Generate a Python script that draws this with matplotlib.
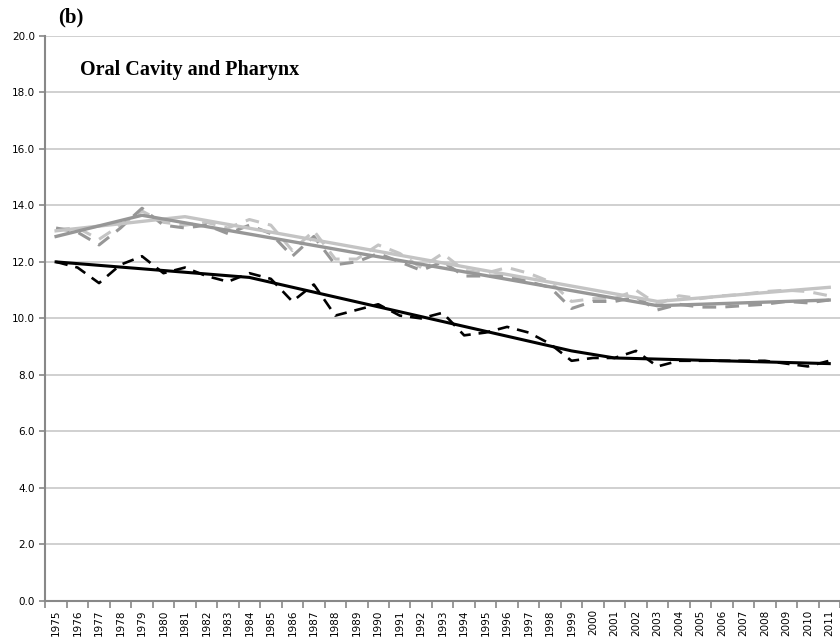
import matplotlib
matplotlib.use("Agg")
import matplotlib.pyplot as plt
import numpy as np

years = list(range(1975, 2012))

# observed rates (dashed) and joinpoint trends (solid)
light_obs = [13.15, 13.2, 12.8, 13.3, 13.8, 13.4, 13.3, 13.4, 13.2, 13.5,
             13.3, 12.4, 13.1, 12.1, 12.1, 12.6, 12.3, 11.8, 12.3, 11.7,
             11.6, 11.8, 11.6, 11.3, 10.6, 10.7, 10.7, 11.0, 10.5, 10.8,
             10.7, 10.8, 10.85, 10.95, 11.0, 10.95, 10.8]
dark_obs = [13.2, 13.05, 12.6, 13.2, 13.9, 13.3, 13.2, 13.3, 13.0, 13.3,
            13.0, 12.2, 12.9, 11.9, 12.0, 12.3, 12.0, 11.7, 12.0, 11.5,
            11.5, 11.5, 11.3, 11.1, 10.35, 10.6, 10.6, 10.75, 10.3, 10.5,
            10.4, 10.4, 10.45, 10.5, 10.6, 10.55, 10.65]
black_obs = [12.0, 11.8, 11.25, 11.9, 12.2, 11.6, 11.8, 11.5, 11.3, 11.6,
             11.4, 10.6, 11.2, 10.1, 10.3, 10.5, 10.1, 10.0, 10.2, 9.4,
             9.5, 9.7, 9.5, 9.1, 8.5, 8.6, 8.6, 8.85, 8.3, 8.5,
             8.5, 8.5, 8.5, 8.5, 8.4, 8.3, 8.5]

light_trend_years = [1975, 1981, 2003, 2011]
light_trend_vals = [13.1, 13.6, 10.6, 11.1]
dark_trend_years = [1975, 1979, 2003, 2011]
dark_trend_vals = [12.9, 13.65, 10.45, 10.65]
black_trend_years = [1975, 1984, 1999, 2001, 2011]
black_trend_vals = [12.0, 11.45, 8.85, 8.6, 8.4]

light = "#c4c4c4"
mid = "#979797"
axis_gray = "#888888"

fig = plt.figure(figsize=(8.4, 6.4), dpi=100)
ax = fig.add_axes([0.054, 0.061, 0.946, 0.883])

x = np.arange(len(years))
dash = (0, (4.5, 3))
ax.plot(x, light_obs, color=light, lw=2.2, linestyle=dash, zorder=3)
ax.plot(x, dark_obs, color=mid, lw=2.2, linestyle=dash, zorder=3)
ax.plot(x, black_obs, color="black", lw=1.9, linestyle=dash, zorder=4)

def idx(ys):
    return [years.index(y) for y in ys]

ax.plot(idx(light_trend_years), light_trend_vals, color=light, lw=2.4, zorder=3)
ax.plot(idx(dark_trend_years), dark_trend_vals, color=mid, lw=2.4, zorder=3)
ax.plot(idx(black_trend_years), black_trend_vals, color="black", lw=2.2, zorder=4)

ax.set_ylim(0, 20)
ax.set_xlim(-0.5, len(years) - 0.5)
ax.set_yticks(np.arange(0, 20.1, 2))
ax.set_yticklabels([f"{v:.1f}" for v in np.arange(0, 20.1, 2)], fontsize=7.5)
ax.yaxis.grid(True, color="#c8c8c8", lw=1.2)
ax.set_axisbelow(True)

ax.set_xticks(x)
ax.set_xticklabels([str(y) for y in years], rotation=90, fontsize=7.5)
ax.set_xticks(np.arange(-0.5, len(years), 1), minor=True)
ax.tick_params(axis="x", which="major", length=0, pad=6)
ax.tick_params(axis="x", which="minor", length=5, color=axis_gray, width=1.2)
ax.tick_params(axis="y", length=4, color=axis_gray, width=1.2)

for s in ["top", "right"]:
    ax.spines[s].set_visible(False)
for s in ["left", "bottom"]:
    ax.spines[s].set_color(axis_gray)
    ax.spines[s].set_linewidth(1.5)

fig.text(0.069, 0.972, "(b)", fontsize=15, fontweight="bold",
         family="Liberation Serif", va="center", ha="left")
ax.text(0.044, 0.94, "Oral Cavity and Pharynx", transform=ax.transAxes,
        fontsize=14.5, fontweight="bold", family="Liberation Serif",
        va="center", ha="left")

fig.savefig("out.png", dpi=100)
